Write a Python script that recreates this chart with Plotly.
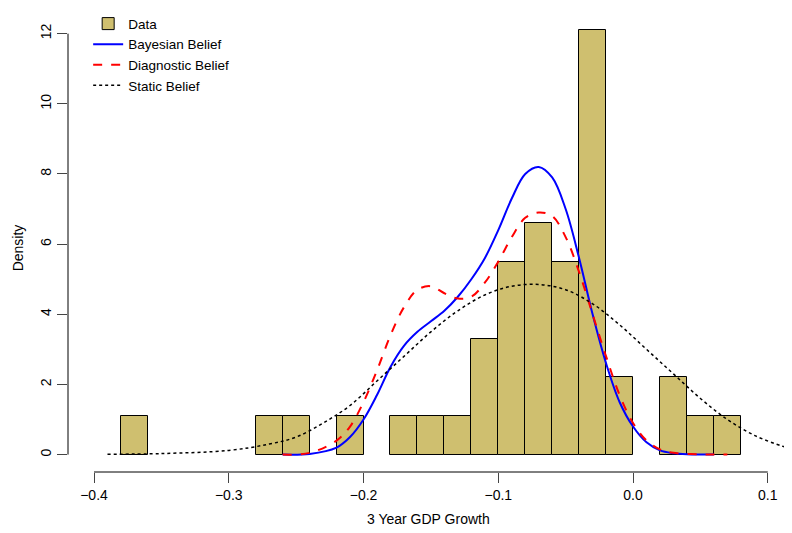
import plotly.graph_objects as go

bin_left = [-0.38,-0.28,-0.26,-0.22,-0.18,-0.16,-0.14,-0.12,-0.10,-0.08,-0.06,-0.04,-0.02,0.02,0.04,0.06]
bin_height = [1.1,1.1,1.1,1.1,1.1,1.1,1.1,3.3,5.5,6.6,5.5,12.1,2.2,2.2,1.1,1.1]
bin_width = 0.02

bx = [-0.26,-0.24,-0.22,-0.21,-0.20,-0.19,-0.18,-0.17,-0.16,-0.15,-0.14,-0.13,-0.12,-0.11,-0.10,-0.09,-0.08,-0.07,-0.06,-0.05,-0.04,-0.03,-0.02,-0.01,0.0,0.01,0.02,0.03,0.04,0.06]
by = [0,0.02,0.2,0.5,1.0,1.7,2.5,3.1,3.5,3.8,4.1,4.5,5.0,5.6,6.4,7.3,8.0,8.2,7.9,7.0,5.6,4.0,2.6,1.5,0.8,0.35,0.12,0.04,0.01,0]
dx = [-0.26,-0.24,-0.22,-0.21,-0.20,-0.19,-0.18,-0.17,-0.16,-0.15,-0.14,-0.13,-0.12,-0.11,-0.10,-0.09,-0.08,-0.07,-0.06,-0.05,-0.04,-0.03,-0.02,-0.01,0.0,0.01,0.02,0.03,0.05,0.07]
dy = [0,0.05,0.4,0.8,1.5,2.4,3.4,4.2,4.7,4.8,4.6,4.45,4.5,4.9,5.5,6.2,6.75,6.9,6.8,6.2,5.2,4.0,2.8,1.7,0.9,0.4,0.15,0.05,0.01,0]
sx = [-0.39,-0.35,-0.30,-0.27,-0.25,-0.23,-0.21,-0.19,-0.17,-0.15,-0.13,-0.11,-0.09,-0.07,-0.05,-0.03,-0.01,0.01,0.03,0.05,0.07,0.09,0.11,0.115]
sy = [0.01,0.03,0.12,0.3,0.5,0.9,1.4,2.1,2.8,3.5,4.1,4.55,4.8,4.85,4.7,4.3,3.7,3.0,2.3,1.6,1.0,0.55,0.25,0.2]

xticks = [-0.4,-0.3,-0.2,-0.1,0.0,0.1]
xlabels = ["−0.4","−0.3","−0.2","−0.1","0.0","0.1"]
yticks = [0,2,4,6,8,10,12]

fig = go.Figure()
fig.add_trace(go.Bar(x=[b + bin_width/2 for b in bin_left], y=bin_height, width=bin_width,
                     marker=dict(color="#CFBF6F", line=dict(color="black", width=1)), name="Data"))
fig.add_trace(go.Scatter(x=bx, y=by, mode="lines", line=dict(color="blue", width=2, shape="spline"), name="Bayesian Belief"))
fig.add_trace(go.Scatter(x=dx, y=dy, mode="lines", line=dict(color="red", width=2, dash="dash", shape="spline"), name="Diagnostic Belief"))
fig.add_trace(go.Scatter(x=sx, y=sy, mode="lines", line=dict(color="black", width=1.5, dash="dot", shape="spline"), name="Static Belief"))

fig.add_shape(type="line", xref="x", yref="paper", x0=min(xticks), x1=max(xticks), y0=0, y1=0, line=dict(color="black", width=1))
fig.add_shape(type="line", xref="paper", yref="y", x0=0, x1=0, y0=min(yticks), y1=max(yticks), line=dict(color="black", width=1))
fig.add_annotation(text="3 Year GDP Growth", xref="paper", yref="paper", x=0.5, y=-0.106,
                   showarrow=False, yanchor="middle", font=dict(size=14))
fig.add_annotation(text="Density", xref="paper", yref="paper", x=-0.069, y=0.5, textangle=-90,
                   showarrow=False, xanchor="center", font=dict(size=14))

fig.update_layout(
    width=792, height=533, plot_bgcolor="white", paper_bgcolor="white",
    margin=dict(l=60, r=12, t=0, b=69),
    font=dict(family="Liberation Sans, Arial", size=14, color="black"),
    bargap=0,
    xaxis=dict(range=[-0.4193, 0.115], tickvals=xticks, ticktext=xlabels, ticks="outside", ticklen=10,
               showgrid=False, zeroline=False, showline=False, automargin=False),
    yaxis=dict(range=[-0.496, 12.275], tickvals=yticks, ticks="outside", ticklen=10, tickangle=-90,
               showgrid=False, zeroline=False, showline=False, automargin=False),
    legend=dict(x=0.028, y=1.035, xanchor="left", yanchor="top", bgcolor="rgba(0,0,0,0)",
                font=dict(size=13.5), tracegroupgap=0, itemwidth=30),
    showlegend=True,
)
fig.write_html("out.html")
